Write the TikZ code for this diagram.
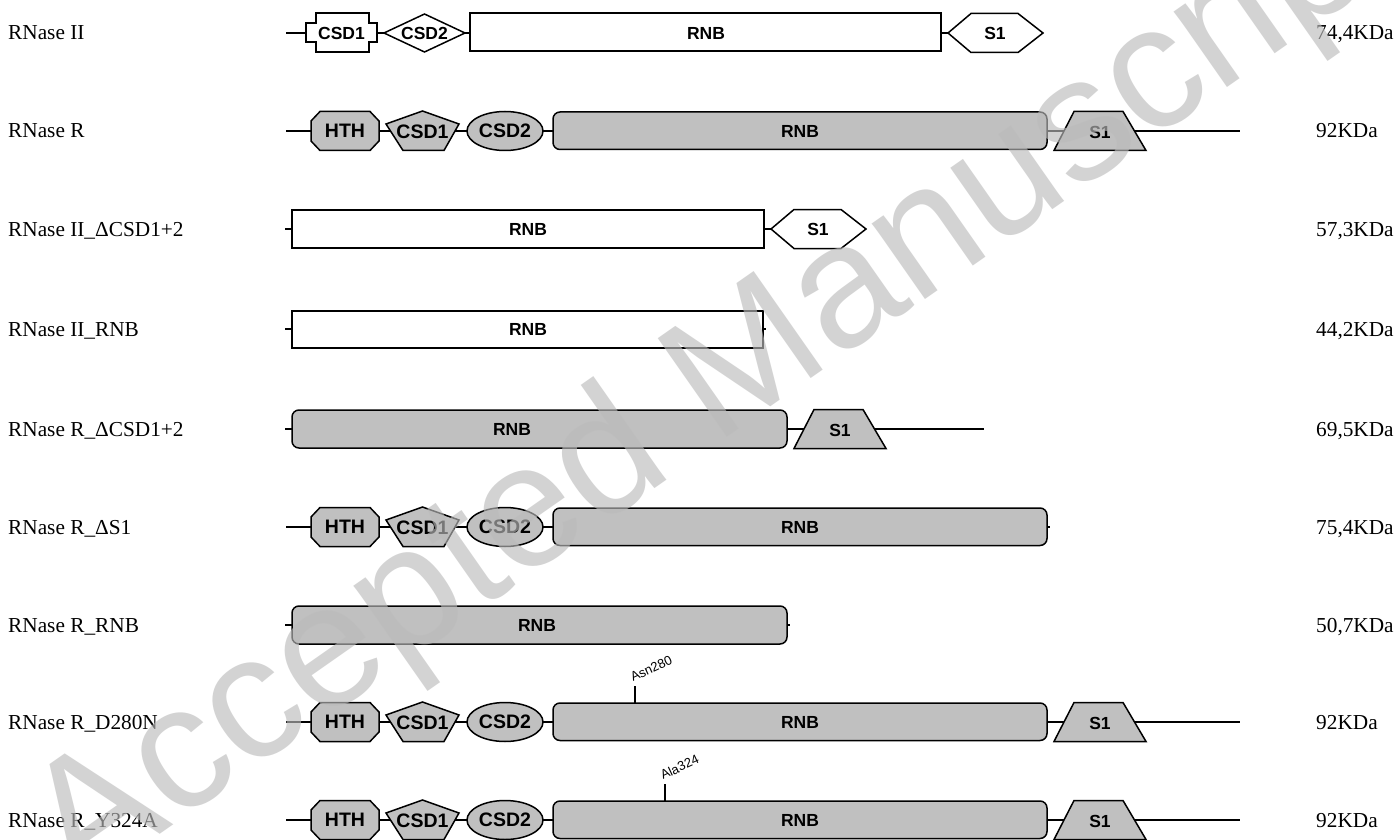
\documentclass[tikz,border=0pt]{standalone}
\usepackage{fontspec}
\setmainfont{Liberation Serif}
\setsansfont{Liberation Sans}
\definecolor{domgray}{HTML}{C0C0C0}
\definecolor{wmgray}{HTML}{BBBBBB}
\newcommand\RDomains[2]{%
 \begin{scope}[shift={(0,#1)}]
  \filldraw[gdom] (320,-19.5) -- (370,-19.5) -- (379,-10) -- (379,10) -- (370,19.5) -- (320,19.5) -- (311,10) -- (311,-10) -- cycle;
  \node[lbll] (#2hth) at (345,0) {HTH};
  \filldraw[gdom] (422.5,-20) -- (459,-7) -- (444,19.5) -- (403,19.5) -- (386,-7) -- cycle;
  \node[lbll] (#2csda) at (422.5,0.5) {CSD1};
  \filldraw[gdom] (505,0) ellipse [x radius=38, y radius=19.5];
  \node[lbll] (#2csdb) at (505,0) {CSD2};
  \filldraw[gdom, rounded corners=7pt] (553,-19) rectangle (1047,18.5);
  \node[lbl] (#2rnb) at (800,0) {RNB};
 \end{scope}}
\newcommand\STrap[3]{%
 \begin{scope}[shift={(#3,#1)}]
  \filldraw[gdom] (1054,19.5) -- (1074,-19.5) -- (1123,-19.5) -- (1146,19.5) -- cycle;
  \node[lbl] (#2sa) at (1100,1) {S1};
 \end{scope}}
\newcommand\SHex[3]{%
 \begin{scope}[shift={(#3,#1)}]
  \filldraw[wdom] (948,0) -- (971,-19.5) -- (1018,-19.5) -- (1043,0) -- (1018,19.5) -- (971,19.5) -- cycle;
  \node[lbl] (#2sa) at (995,0) {S1};
 \end{scope}}
\begin{document}
\begin{tikzpicture}[x=1pt,y=-1pt,
  dom/.style={draw=black, line width=1.5pt, line join=miter},
  gdom/.style={dom, fill=domgray},
  wdom/.style={dom, fill=white},
  backbone/.style={draw=black, line width=1.3pt},
  lbl/.style={font=\sffamily\bfseries\fontsize{17.5}{20}\selectfont, inner sep=0pt},
  lbll/.style={font=\sffamily\bfseries\fontsize{19.5}{22}\selectfont, inner sep=0pt},
  rowname/.style={font=\fontsize{21.3}{25}\selectfont, inner sep=0pt, anchor=base west},
  mut/.style={font=\sffamily\fontsize{13}{15}\selectfont, inner sep=0pt, anchor=base west, rotate=25},
]
\useasboundingbox (0,0) rectangle (1398,840);
\fill[white] (0,0) rectangle (1398,840);

% ---------- labels ----------
\foreach \n/\t/\k/\y in {1/{RNase II}/{74,4KDa}/33, 2/{RNase R}/{92KDa}/131,
  3/{RNase II\_ΔCSD1+2}/{57,3KDa}/229, 4/{RNase II\_RNB}/{44,2KDa}/329,
  5/{RNase R\_ΔCSD1+2}/{69,5KDa}/429, 6/{RNase R\_ΔS1}/{75,4KDa}/527,
  7/{RNase R\_RNB}/{50,7KDa}/625, 8/{RNase R\_D280N}/{92KDa}/722,
  9/{RNase R\_Y324A}/{92KDa}/820}{
  \node[rowname] (name\n) at (8,\y+7) {\t};
  \node[rowname] (mass\n) at (1316,\y+7) {\k};
}

% ---------- row 1: RNase II ----------
\coordinate (r1a) at (286,33); \coordinate (r1b) at (948,33);
\draw[backbone] (r1a) -- (r1b);
\begin{scope}[shift={(0,33)}]
 \filldraw[wdom] (316,-20) -- (369,-20) -- (369,-10) -- (377,-10) -- (377,9) -- (369,9) -- (369,19) -- (316,19) -- (316,9) -- (306,9) -- (306,-10) -- (316,-10) -- cycle;
 \node[lbl] (r1csda) at (341.5,0) {CSD1};
 \filldraw[wdom] (384,0) -- (424.5,-19) -- (465,0) -- (424.5,19) -- cycle;
 \node[lbl] (r1csdb) at (424.5,0) {CSD2};
 \filldraw[wdom] (470,-20) rectangle (941,18);
 \node[lbl] (r1rnb) at (706,0) {RNB};
\end{scope}
\SHex{33}{r1}{0}

% ---------- row 2: RNase R ----------
\coordinate (r2a) at (286,131); \coordinate (r2b) at (1240,131);
\draw[backbone] (r2a) -- (r2b);
\RDomains{131}{r2}
\STrap{131}{r2}{0}

% ---------- row 3: RNase II dCSD1+2 ----------
\coordinate (r3a) at (285,229); \coordinate (r3b) at (771,229);
\draw[backbone] (r3a) -- (r3b);
\filldraw[wdom] (292,210) rectangle (764,248);
\node[lbl] (r3rnb) at (528,229) {RNB};
\SHex{229}{r3}{-177}

% ---------- row 4: RNase II RNB ----------
\coordinate (r4a) at (285,329); \coordinate (r4b) at (766,329);
\draw[backbone] (r4a) -- (r4b);
\filldraw[wdom] (292,311) rectangle (763,348);
\node[lbl] (r4rnb) at (528,329) {RNB};

% ---------- row 5: RNase R dCSD1+2 ----------
\coordinate (r5a) at (285,429); \coordinate (r5b) at (984,429);
\draw[backbone] (r5a) -- (r5b);
\filldraw[gdom, rounded corners=7pt] (292,410) rectangle (787,448);
\node[lbl] (r5rnb) at (512,429) {RNB};
\STrap{429}{r5}{-260}

% ---------- row 6: RNase R dS1 ----------
\coordinate (r6a) at (286,527); \coordinate (r6b) at (1050,527);
\draw[backbone] (r6a) -- (r6b);
\RDomains{527}{r6}

% ---------- row 7: RNase R RNB ----------
\coordinate (r7a) at (285,625); \coordinate (r7b) at (790,625);
\draw[backbone] (r7a) -- (r7b);
\filldraw[gdom, rounded corners=7pt] (292,606) rectangle (787,644);
\node[lbl] (r7rnb) at (537,625) {RNB};

% ---------- row 8: RNase R D280N ----------
\coordinate (r8a) at (286,722); \coordinate (r8b) at (1240,722);
\draw[backbone] (r8a) -- (r8b);
\RDomains{722}{r8}
\STrap{722}{r8}{0}
\coordinate (m8a) at (635,703); \coordinate (m8b) at (635,686);
\draw[backbone] (m8a) -- (m8b);
\node[mut] (asn) at (633,682) {Asn280};

% ---------- row 9: RNase R Y324A ----------
\coordinate (r9a) at (286,820); \coordinate (r9b) at (1240,820);
\draw[backbone] (r9a) -- (r9b);
\RDomains{820}{r9}
\STrap{820}{r9}{0}
\coordinate (m9a) at (665,801); \coordinate (m9b) at (665,784);
\draw[backbone] (m9a) -- (m9b);
\node[mut] (ala) at (663,780) {Ala324};

% ---------- watermark ----------
\node[font=\sffamily\fontsize{175}{175}\selectfont, text=wmgray, text opacity=0.64, rotate=35, inner sep=0pt] (wm) at (722,386) {Accepted Manuscript};
\end{tikzpicture}
\end{document}
